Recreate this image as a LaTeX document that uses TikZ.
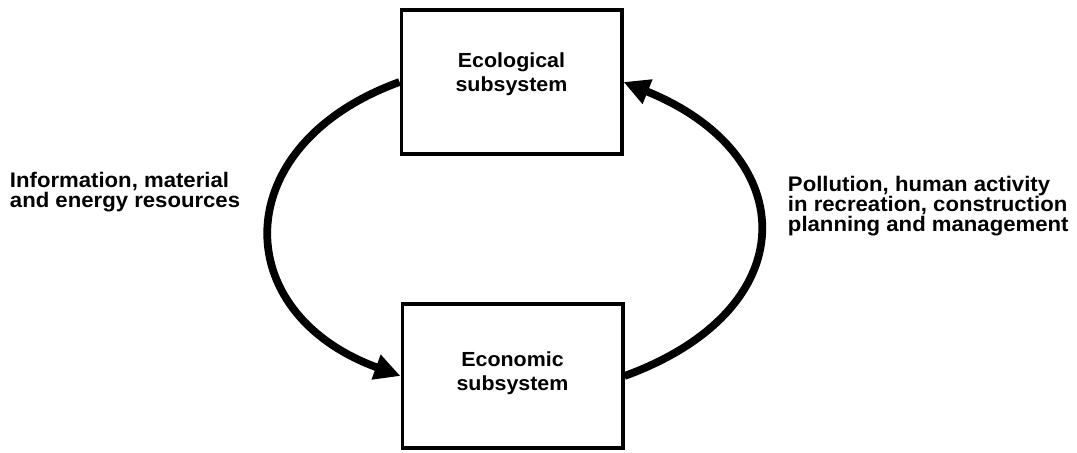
\documentclass[tikz,border=0pt]{standalone}
\usepackage{fontspec}
\setmainfont{Liberation Sans}[FakeStretch=1.05]
\usepackage{tikz}
\usetikzlibrary{arrows.meta}

\begin{document}
\begin{tikzpicture}[
  x=0.025cm, y=0.025cm,
  font=\bfseries,
  sys/.style={draw=black,line width=2.8pt,minimum width=5.5cm,minimum height=3.6cm},
  lbl/.style={align=center,font=\bfseries\fontsize{14.5}{17}\selectfont},
  side/.style={align=left,anchor=west,font=\bfseries\fontsize{15}{14.2}\selectfont},
  flow/.style={-{Triangle[length=0.65cm,width=0.62cm]},line width=5.5pt}
]
\useasboundingbox (0,0) rectangle (1077,453);
\node[sys,label={[lbl,yshift=0.19cm]center:Ecological\\subsystem}] (eco) at (511.5,371) {};
\node[sys,label={[lbl,yshift=0.06cm]center:Economic\\subsystem}] (econ) at (512.5,77) {};
\node[side] (inputs) at (5,261) {Information, material\\and energy resources};
\node[side] (impact) at (783,247) {Pollution, human activity\\in recreation, construction\\planning and management};

\draw[flow] (eco.west) to[out=200,in=160,looseness=1.6] (econ.west);
\draw[flow] (econ.east) to[out=20,in=-22,looseness=1.68] (eco.east);
\end{tikzpicture}
\end{document}
